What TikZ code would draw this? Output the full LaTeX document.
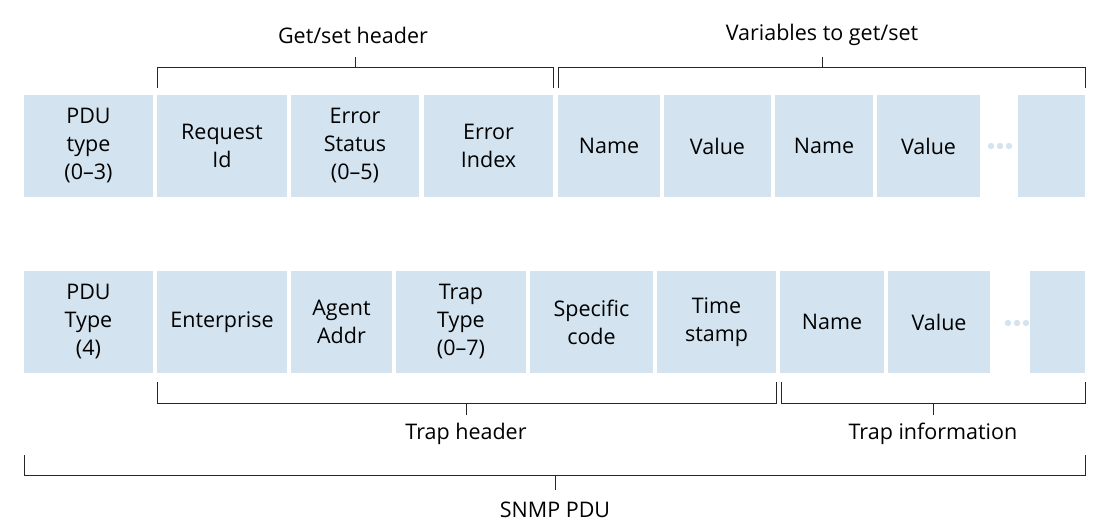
\documentclass[tikz,border=0pt]{standalone}
\usepackage{fontspec}
\setmainfont{Open Sans}
\begin{document}
\begin{tikzpicture}[x=1pt,y=-1pt,
  box/.style={fill=boxc,draw=none,align=center,inner sep=0pt,font=\fontsize{21.5}{28}\selectfont},
  br/.style={line width=0.9pt,black!85},
  lab/.style={font=\fontsize{21.5}{26}\selectfont}]
\definecolor{boxc}{RGB}{211,228,240}
\useasboundingbox (0,0) rectangle (1111,529);
\newcommand\bx[6]{\node[box,minimum width=#3-#2,minimum height=#5-#4] (#1) at ({(#2+#3)/2},{(#4+#5)/2}) {#6};}
% top row
\bx{a1}{24}{153}{95}{197}{PDU\\type\\(0--3)}
\bx{a2}{157}{287}{95}{197}{Request\\Id}
\bx{a3}{291}{419}{95}{197}{Error\\Status\\(0--5)}
\bx{a4}{424}{553}{95}{197}{Error\\Index}
\bx{a5}{558}{660}{95}{197}{Name}
\bx{a6}{664}{771}{95}{197}{Value}
\bx{a7}{775}{873}{95}{197}{Name}
\bx{a8}{877}{980}{95}{197}{Value}
\bx{a9}{1018}{1085}{95}{197}{}
\foreach \x in {991,1000,1009} \fill[boxc] (\x,146) circle (3.2);
% bottom row
\bx{b1}{24}{153}{271}{373}{PDU\\Type\\(4)}
\bx{b2}{157}{287}{271}{373}{Enterprise}
\bx{b3}{291}{392}{271}{373}{Agent\\Addr}
\bx{b4}{396}{526}{271}{373}{Trap\\Type\\(0--7)}
\bx{b5}{530}{653}{271}{373}{Specific\\code}
\bx{b6}{657}{776}{271}{373}{Time\\stamp}
\bx{b7}{780}{884}{271}{373}{Name}
\bx{b8}{888}{990}{271}{373}{Value}
\bx{b9}{1030}{1085}{271}{373}{}
\foreach \x in {1008,1017,1026} \fill[boxc] (\x,323) circle (3.2);
% brackets
\draw[br] (157,88) -- (157,67) -- (553,67) -- (553,88) (355,67) -- (355,57);
\node[lab] (l1) at (353,35) {Get/set header};
\draw[br] (558,88) -- (558,67) -- (1085,67) -- (1085,88) (822,67) -- (822,57);
\node[lab] (l2) at (822,35) {Variables to get/set};
\draw[br] (157,382) -- (157,403) -- (776,403) -- (776,382) (466,403) -- (466,415);
\node[lab] (l3) at (466,434) {Trap header};
\draw[br] (781,382) -- (781,403) -- (1085,403) -- (1085,382) (933,403) -- (933,415);
\node[lab] (l4) at (933,434) {Trap information};
\draw[br] (24,455) -- (24,475) -- (1085,475) -- (1085,455) (555,475) -- (555,490);
\node[lab] (l5) at (555,510) {SNMP PDU};
\end{tikzpicture}
\end{document}
